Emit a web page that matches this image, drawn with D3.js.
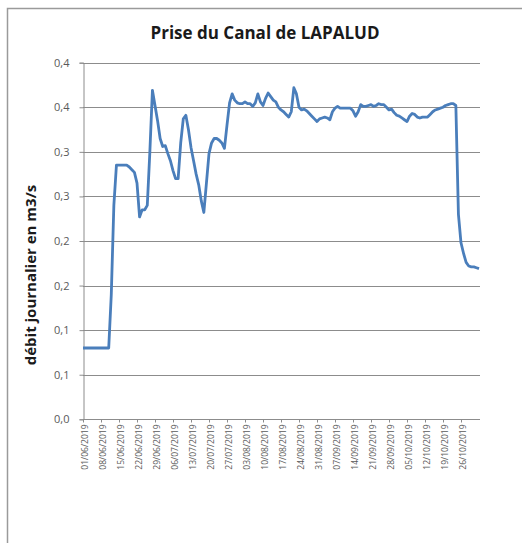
<!DOCTYPE html>
<html>
<head>
<meta charset="utf-8">
<style>
  body { margin: 0; background: #fff; }
  text { font-family: "Open Sans", "Liberation Sans", sans-serif; }
</style>
</head>
<body>
<svg width="522" height="543"></svg>
<script src="https://d3js.org/d3.v7.min.js"></script>
<script>
// daily flow, 01/06/2019 -> 02/11/2019 (m3/s)
var startDate = new Date(2019, 5, 1)
var debit = [
  0.08, 0.08, 0.08, 0.08, 0.08, 0.08, 0.08, 0.08, 0.08, 0.08,
  0.08, 0.14, 0.24, 0.285, 0.285, 0.285, 0.285, 0.285, 0.283, 0.28,
  0.277, 0.265, 0.227, 0.235, 0.235, 0.24, 0.30, 0.369, 0.352, 0.335,
  0.315, 0.306, 0.307, 0.298, 0.29, 0.279, 0.27, 0.27, 0.31, 0.337,
  0.341, 0.325, 0.305, 0.29, 0.275, 0.263, 0.245, 0.232, 0.265, 0.298,
  0.31, 0.315, 0.315, 0.313, 0.31, 0.304, 0.33, 0.355, 0.365, 0.358,
  0.355, 0.354, 0.354, 0.356, 0.354, 0.354, 0.351, 0.355, 0.365, 0.356,
  0.352, 0.36, 0.366, 0.362, 0.358, 0.356, 0.35, 0.347, 0.345, 0.342,
  0.339, 0.345, 0.372, 0.365, 0.35, 0.347, 0.348, 0.346, 0.343, 0.34,
  0.337, 0.334, 0.337, 0.338, 0.339, 0.338, 0.336, 0.345, 0.349, 0.351,
  0.349, 0.349, 0.349, 0.349, 0.349, 0.346, 0.34, 0.345, 0.353, 0.351,
  0.351, 0.352, 0.353, 0.351, 0.352, 0.354, 0.353, 0.353, 0.35, 0.347,
  0.348, 0.344, 0.341, 0.34, 0.338, 0.336, 0.334, 0.34, 0.343, 0.342,
  0.339, 0.338, 0.339, 0.339, 0.339, 0.342, 0.345, 0.347, 0.348, 0.349,
  0.35, 0.352, 0.353, 0.354, 0.354, 0.352, 0.23, 0.198, 0.186, 0.176,
  0.172, 0.171, 0.171, 0.17, 0.169
]
var yTicks = [0, 0.05, 0.1, 0.15, 0.2, 0.25, 0.3, 0.35, 0.4]
var tickDates = d3.range(0, 22).map(function(i) { return d3.timeDay.offset(startDate, i * 7) })
var data = debit.map(function(v, i) { return {date: d3.timeDay.offset(startDate, i), v: v} })

var svg = d3.select('svg')
var m = {left: 83, right: 480, top: 62.7, bottom: 419.3}

// frame (cropped on right / bottom)
svg.append('path').attr('d', 'M7.5,543 V8.5 H522')
  .attr('fill', 'none').attr('stroke', '#9a9a9a').attr('stroke-width', 1.5)

var x = d3.scaleTime().domain([startDate, data[data.length - 1].date]).range([m.left, 479])
var y = d3.scaleLinear().domain([0, 0.4]).range([m.bottom, m.top])

// gridlines
svg.append('g').selectAll('line').data(yTicks.slice(1)).join('line')
  .attr('x1', m.left).attr('x2', m.right)
  .attr('y1', function(d) { return Math.round(y(d)) + 0.5 })
  .attr('y2', function(d) { return Math.round(y(d)) + 0.5 })
  .attr('stroke', '#8c8c8c').attr('stroke-width', 1.2)

var fmt = function(d) { return d3.format('.1f')(Math.round(d * 10 + 1e-9) / 10).replace('.', ',') }

var yAxis = svg.append('g').attr('transform', 'translate(' + (m.left + 0.5) + ',0)')
  .call(d3.axisLeft(y).tickValues(yTicks).tickSize(4).tickPadding(10).tickFormat(fmt))
yAxis.selectAll('line, path').attr('stroke', '#8c8c8c')
yAxis.selectAll('text').attr('fill', '#595959').style('font-size', '11px')

var xAxis = svg.append('g').attr('transform', 'translate(0,' + (Math.round(m.bottom) + 0.5) + ')')
  .call(d3.axisBottom(x).tickValues(tickDates).tickSize(3).tickSizeOuter(0).tickFormat(d3.timeFormat('%d/%m/%Y')))
xAxis.select('.domain').attr('d', 'M' + m.left + ',0H' + m.right)
xAxis.selectAll('line, path').attr('stroke', '#8c8c8c')
xAxis.selectAll('text')
  .attr('fill', '#595959').style('font-size', '8.5px')
  .attr('text-anchor', 'end').attr('dy', '0.35em')
  .attr('transform', 'translate(2,0) rotate(-90)').attr('x', -5).attr('y', 0)

// series line
svg.append('path').datum(data)
  .attr('fill', 'none').attr('stroke', '#4a7ebb').attr('stroke-width', 2.8)
  .attr('stroke-linejoin', 'round')
  .attr('d', d3.line().x(function(d) { return x(d.date) }).y(function(d) { return y(d.v) }))

svg.append('text').attr('x', 265).attr('y', 39).attr('text-anchor', 'middle')
  .style('font-size', '17px').style('font-weight', 'bold').attr('fill', '#1a1a1a')
  .text('Prise du Canal de LAPALUD')

svg.append('text').attr('transform', 'translate(36,275) rotate(-90)').attr('text-anchor', 'middle')
  .style('font-size', '15px').style('font-weight', 'bold').attr('fill', '#1a1a1a')
  .text('débit journalier en m3/s')
</script>
</body>
</html>
